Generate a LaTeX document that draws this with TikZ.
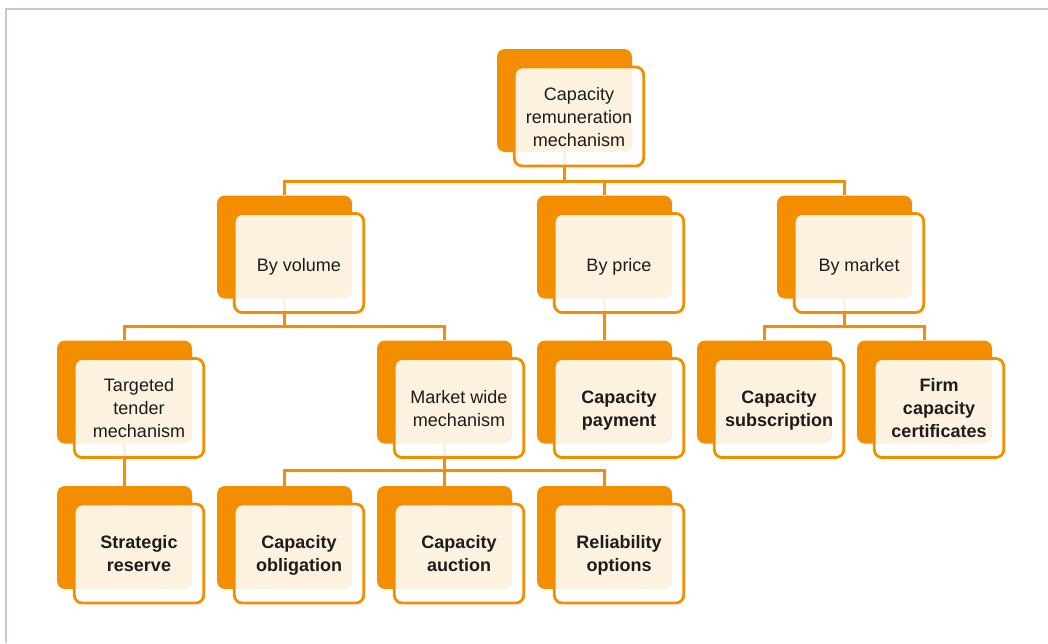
\documentclass[tikz,border=0pt]{standalone}
\usepackage{fontspec}
\setmainfont{Liberation Sans}
\usepackage{xcolor}
\usepackage{tikz}
\definecolor{boxorange}{RGB}{242,142,0}
\definecolor{framegray}{RGB}{197,201,209}
\definecolor{inkgray}{RGB}{28,28,28}

\begin{document}
\begin{tikzpicture}[x=1pt, y=-1pt,
    back/.style={shape=rectangle, rounded corners=8pt, fill=boxorange, minimum width=135pt, minimum height=103pt, inner sep=0pt},
    card/.style={shape=rectangle, rounded corners=8pt, draw=boxorange, line width=2.8pt, fill=white, fill opacity=0.88, text opacity=1, minimum width=129.5pt, minimum height=99pt, inner sep=0pt, align=center, text=inkgray, font=\fontsize{18}{23}\selectfont, execute at begin node=\strut, text depth=0pt},
    leaf/.style={card, font=\fontsize{18}{23}\selectfont\bfseries},
    link/.style={draw=boxorange, line width=2.8pt}]
    \useasboundingbox (0,0) rectangle (1048,643);
    \draw[framegray, line width=2pt] (6,643) -- (6,9) -- (1048,9);

    % orange backs
    \node[back] (top-bk) at (564.5,100.5) {};
    \node[back] (vol-bk) at (284.5,247) {};
    \node[back] (price-bk) at (604.5,247) {};
    \node[back] (mkt-bk) at (844.5,247) {};
    \node[back] (tender-bk) at (124.5,392) {};
    \node[back] (wide-bk) at (444.5,392) {};
    \node[back] (pay-bk) at (604.5,392) {};
    \node[back] (sub-bk) at (764.5,392) {};
    \node[back] (firm-bk) at (924.5,392) {};
    \node[back] (strat-bk) at (124.5,537.5) {};
    \node[back] (oblig-bk) at (284.5,537.5) {};
    \node[back] (auct-bk) at (444.5,537.5) {};
    \node[back] (rel-bk) at (604.5,537.5) {};

    \draw[link] (top-bk.south) -- ++(0,29) -| (vol-bk.north);
    \draw[link] (top-bk.south) -- ++(0,29) -| (price-bk.north);
    \draw[link] (top-bk.south) -- ++(0,29) -| (mkt-bk.north);
    \draw[link] (vol-bk.south) -- ++(0,28) -| (tender-bk.north);
    \draw[link] (vol-bk.south) -- ++(0,28) -| (wide-bk.north);
    \draw[link] (price-bk.south) -- (pay-bk.north);
    \draw[link] (mkt-bk.south) -- ++(0,28) -| (sub-bk.north);
    \draw[link] (mkt-bk.south) -- ++(0,28) -| (firm-bk.north);
    \draw[link] (tender-bk.south) -- (strat-bk.north);
    \draw[link] (wide-bk.south) -- ++(0,27) -| (oblig-bk.north);
    \draw[link] (wide-bk.south) -- ++(0,27) -| (auct-bk.north);
    \draw[link] (wide-bk.south) -- ++(0,27) -| (rel-bk.north);

    % front cards
    \node[card] (top) at ([shift={(14.5,16)}]top-bk) {Capacity\\remuneration\\mechanism};
    \node[card] (vol) at ([shift={(14.5,16)}]vol-bk) {By volume};
    \node[card] (price) at ([shift={(14.5,16)}]price-bk) {By price};
    \node[card] (mkt) at ([shift={(14.5,16)}]mkt-bk) {By market};
    \node[card] (tender) at ([shift={(14.5,16)}]tender-bk) {Targeted\\tender\\mechanism};
    \node[card] (wide) at ([shift={(14.5,16)}]wide-bk) {Market wide\\mechanism};
    \node[leaf] (pay) at ([shift={(14.5,16)}]pay-bk) {Capacity\\payment};
    \node[leaf] (sub) at ([shift={(14.5,16)}]sub-bk) {Capacity\\subscription};
    \node[leaf] (firm) at ([shift={(14.5,16)}]firm-bk) {Firm\\capacity\\certificates};
    \node[leaf] (strat) at ([shift={(14.5,16)}]strat-bk) {Strategic\\reserve};
    \node[leaf] (oblig) at ([shift={(14.5,16)}]oblig-bk) {Capacity\\obligation};
    \node[leaf] (auct) at ([shift={(14.5,16)}]auct-bk) {Capacity\\auction};
    \node[leaf] (rel) at ([shift={(14.5,16)}]rel-bk) {Reliability\\options};
\end{tikzpicture}
\end{document}
